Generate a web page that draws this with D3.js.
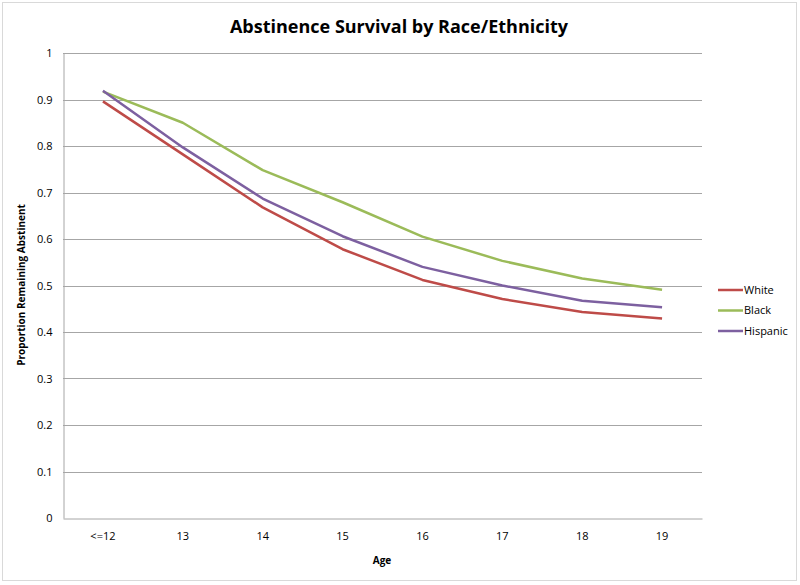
<!DOCTYPE html>
<html><head><meta charset="utf-8">
<script src="https://cdn.jsdelivr.net/npm/d3@7"></script>
<style>body{margin:0;background:#fff;} svg{display:block;}</style>
</head><body>
<svg id="c" width="800" height="585"></svg>
<script>
const ages = ["<=12","13","14","15","16","17","18","19"];
const white = [0.896,0.782,0.668,0.578,0.512,0.471,0.443,0.429];
const black = [0.917,0.850,0.748,0.679,0.605,0.553,0.515,0.491];
const hispanic = [0.919,0.797,0.687,0.606,0.540,0.500,0.467,0.453];
const yTicks = [0,0.1,0.2,0.3,0.4,0.5,0.6,0.7,0.8,0.9,1];
const seriesNames = ["White","Black","Hispanic"];
const colors = ["#BE4B48","#9BBB59","#7D60A0"];
const series = [white, black, hispanic];

const svg = d3.select("#c");
const font = "'Open Sans', 'Liberation Sans', sans-serif";
svg.append("rect").attr("x",2.5).attr("y",2.5).attr("width",794).attr("height",578)
  .attr("fill","#fff").attr("stroke","#d9d9d9").attr("stroke-width",1);

const L=63, R=702, T=53, B=518;
const x = d3.scaleBand().domain(ages).range([L,R]);
const y = d3.scaleLinear().domain([0,1]).range([B,T]);

// grid
svg.append("g").selectAll("line").data(yTicks.filter(d=>d>0)).join("line")
  .attr("x1",L).attr("x2",R).attr("y1",d=>Math.round(y(d))+0.5).attr("y2",d=>Math.round(y(d))+0.5)
  .attr("stroke","#a6a6a6").attr("stroke-width",1);

const yAxis = svg.append("g").attr("transform",`translate(${L+0.5},0)`)
  .call(d3.axisLeft(y).tickValues(yTicks).tickFormat(d=>d3.format("")(+d.toFixed(1))).tickSize(0).tickPadding(11).tickSizeOuter(0));
yAxis.select(".domain").attr("stroke","#a6a6a6");
yAxis.selectAll("text").attr("font-family",font).attr("font-size",11).attr("fill","#000");

const xAxis = svg.append("g").attr("transform",`translate(0,${B+0.5})`)
  .call(d3.axisBottom(x).tickSize(0).tickSizeOuter(0));
xAxis.select(".domain").attr("stroke","#a6a6a6");
xAxis.selectAll("text").attr("font-family",font).attr("font-size",11).attr("fill","#000").attr("dy","1.7em");

const line = d3.line().x((d,i)=>x(ages[i])+x.bandwidth()/2).y(d=>y(d));
svg.append("g").selectAll("path").data(series).join("path")
  .attr("d",d=>line(d)).attr("fill","none").attr("stroke",(d,i)=>colors[i])
  .attr("stroke-width",2.5).attr("stroke-linejoin","round");

// title
svg.append("text").attr("x",399).attr("y",33).attr("text-anchor","middle")
  .attr("font-family",font).attr("font-weight","bold").attr("font-size",18).text("Abstinence Survival by Race/Ethnicity");
// axis titles
svg.append("text").attr("x",382).attr("y",564).attr("text-anchor","middle")
  .attr("font-family",font).attr("font-weight","bold").attr("font-size",10).text("Age");
svg.append("text").attr("transform","translate(25,285) rotate(-90)").attr("text-anchor","middle")
  .attr("font-family",font).attr("font-weight","bold").attr("font-size",10).text("Proportion Remaining Abstinent");

// legend
const lg = svg.append("g").selectAll("g").data(seriesNames).join("g")
  .attr("transform",(d,i)=>`translate(718,${290+i*20.5})`);
lg.append("line").attr("x1",0).attr("x2",25).attr("stroke",(d,i)=>colors[i]).attr("stroke-width",2.5);
lg.append("text").attr("x",26).attr("dy","0.35em").attr("font-family",font).attr("font-size",11).text(d=>d);
</script>
</body></html>
